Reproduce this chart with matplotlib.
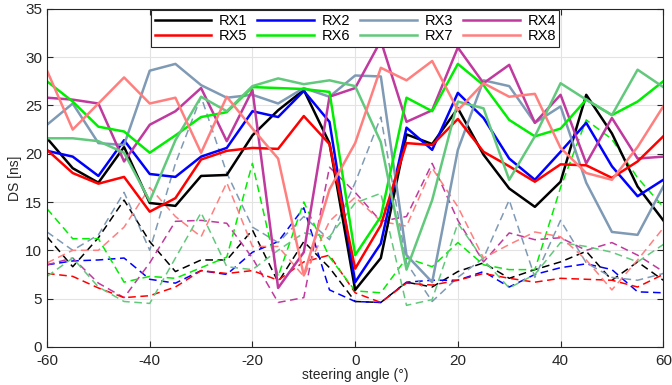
#!/usr/bin/env python
import matplotlib
matplotlib.use("Agg")
import matplotlib.pyplot as plt

plt.rcParams['font.family'] = ['Liberation Sans', 'DejaVu Sans']
plt.rcParams['axes.unicode_minus'] = False

angles = list(range(-60, 61, 5))
labels = ["RX1", "RX2", "RX3", "RX4", "RX5", "RX6", "RX7", "RX8"]
colors = ["#000000", "#0000ff", "#7f9ab5", "#c0399f",
          "#ff0000", "#00ee00", "#62c97c", "#ff7f7f"]

# solid lines
rx1 = [21.6, 18.5, 17.0, 20.7, 14.9, 14.6, 17.7, 17.8, 21.9, 24.5, 26.6, 21.1, 5.9,
       9.2, 22.0, 21.0, 24.7, 19.9, 16.4, 14.5, 17.1, 26.1, 22.1, 16.6, 13.1]
rx2 = [20.3, 19.7, 17.7, 21.4, 17.9, 17.6, 19.7, 20.6, 24.4, 23.8, 26.5, 23.3, 6.7,
       10.7, 22.7, 20.4, 26.3, 23.7, 19.5, 17.3, 20.2, 23.2, 18.7, 15.6, 17.3]
rx3 = [23.0, 25.2, 21.1, 20.9, 28.6, 29.3, 27.1, 25.8, 26.1, 25.2, 26.8, 25.9, 28.1,
       28.0, 9.5, 6.7, 20.4, 27.6, 27.0, 23.2, 24.9, 17.0, 11.9, 11.6, 16.6]
rx4 = [25.8, 25.6, 25.2, 19.2, 23.0, 24.4, 26.8, 21.3, 26.6, 6.1, 9.8, 25.9, 26.8,
       31.7, 23.3, 24.5, 31.0, 27.3, 29.2, 23.2, 26.1, 19.0, 23.7, 19.5, 19.7]
rx5 = [20.4, 18.0, 16.9, 17.6, 14.0, 15.4, 19.4, 20.3, 20.6, 20.5, 23.9, 21.0, 8.1,
       12.6, 21.1, 20.9, 23.6, 20.2, 18.7, 17.1, 18.9, 18.8, 17.5, 19.2, 21.8]
rx6 = [27.5, 25.4, 22.8, 22.3, 20.1, 21.9, 23.8, 24.3, 26.9, 26.8, 26.7, 26.4, 9.5,
       13.5, 25.8, 24.4, 29.3, 27.1, 23.5, 21.8, 22.6, 25.6, 24.0, 25.4, 27.5]
rx7 = [21.6, 21.6, 21.3, 20.1, 15.1, 21.4, 25.9, 24.4, 27.0, 27.8, 27.2, 27.6, 27.0,
       21.2, 8.0, 15.2, 25.4, 24.7, 17.3, 21.8, 27.3, 25.6, 24.0, 28.7, 26.9]
rx8 = [28.6, 22.5, 25.2, 27.9, 25.2, 25.8, 20.1, 25.9, 22.6, 19.5, 7.4, 16.3, 21.1,
       28.9, 27.6, 29.6, 24.5, 27.3, 25.9, 26.2, 20.6, 18.0, 17.3, 20.7, 24.9]

# dashed lines
rx1_d = [11.4, 8.3, 11.3, 15.2, 10.9, 7.8, 9.0, 9.0, 12.1, 6.7, 10.9, 8.2, 4.7,
         4.6, 6.7, 6.2, 7.8, 8.7, 7.1, 8.0, 8.8, 9.9, 6.9, 8.8, 6.9]
rx2_d = [8.5, 8.9, 9.0, 9.2, 7.0, 6.6, 7.9, 7.5, 9.8, 10.9, 14.4, 5.9, 4.7,
         4.6, 6.7, 6.9, 6.9, 7.8, 6.2, 7.5, 8.2, 8.6, 8.0, 5.7, 5.6]
rx3_d = [11.9, 10.0, 11.6, 16.0, 10.0, 19.0, 25.9, 18.0, 12.4, 10.8, 13.5, 11.1, 17.0,
         23.8, 8.7, 4.7, 7.2, 9.2, 15.2, 7.2, 13.1, 8.7, 7.2, 6.9, 7.6]
rx4_d = [8.5, 9.2, 6.6, 5.1, 8.7, 13.0, 13.1, 12.8, 9.2, 4.6, 5.1, 18.6, 16.0,
         13.0, 13.5, 19.0, 13.1, 8.8, 11.8, 11.1, 11.3, 10.0, 10.8, 9.5, 7.8]
rx5_d = [7.6, 7.3, 6.1, 5.1, 5.3, 6.2, 7.9, 7.6, 7.9, 6.9, 8.8, 9.5, 5.6,
         4.6, 6.6, 6.4, 6.9, 7.6, 7.1, 6.7, 7.1, 7.0, 6.9, 6.2, 7.5]
rx6_d = [14.3, 11.2, 11.2, 6.7, 7.3, 7.1, 8.2, 9.3, 19.0, 7.3, 15.0, 9.3, 5.8,
         5.6, 9.2, 8.3, 10.8, 8.5, 8.0, 8.0, 16.5, 23.5, 21.5, 17.5, 14.5]
rx7_d = [7.3, 9.2, 6.2, 4.7, 4.5, 9.2, 13.9, 8.3, 8.0, 10.0, 11.8, 11.4, 14.9,
         15.9, 4.3, 4.9, 12.8, 9.0, 6.1, 7.5, 10.8, 10.4, 9.8, 8.8, 10.6]
rx8_d = [8.7, 10.0, 10.0, 12.4, 16.5, 13.5, 11.4, 17.0, 10.4, 10.4, 7.3, 13.0, 15.5,
         13.0, 12.5, 18.5, 14.5, 9.2, 10.6, 11.9, 11.4, 9.0, 5.9, 9.0, 12.3]

solid = [rx1, rx2, rx3, rx4, rx5, rx6, rx7, rx8]
dashed = [rx1_d, rx2_d, rx3_d, rx4_d, rx5_d, rx6_d, rx7_d, rx8_d]

fig = plt.figure(figsize=(6.72, 3.85), dpi=100)
ax = fig.add_axes([0.070, 0.099, 0.917, 0.878])

for d, c in zip(dashed, colors):
	ax.plot(angles, d, color=c, lw=1.1, ls=(0, (5, 3)))

handles = []
for s, c, lab in zip(solid, colors, labels):
	h, = ax.plot(angles, s, color=c, lw=1.8, label=lab)
	handles.append(h)

ax.set_xlim(-60, 60)
ax.set_ylim(0, 35)
ax.set_xticks(range(-60, 61, 20))
ax.set_yticks(range(0, 36, 5))
ax.grid(True, color="#e3e3e3", lw=0.8)
ax.set_axisbelow(True)
ax.tick_params(direction="in", labelsize=11, colors="#262626", top=True, right=True,
               length=4)
ax.tick_params(axis="x", pad=5)
for sp in ax.spines.values():
	sp.set_color("#262626")
	sp.set_linewidth(0.8)
ax.set_xlabel("steering angle (°)", fontsize=10, color="#262626", labelpad=0)
ax.set_ylabel("DS [ns]", fontsize=10, color="#262626", labelpad=2)

order = [0, 4, 1, 5, 2, 6, 3, 7]
leg = ax.legend([handles[i] for i in order], [labels[i] for i in order],
                ncol=4, loc="upper center", bbox_to_anchor=(0.5, 1.0),
                fontsize=10.5, frameon=True, fancybox=False, handlelength=3.9,
                columnspacing=0.7, handletextpad=0.5, borderpad=0.25,
                labelspacing=0.1, borderaxespad=0.1)
leg.get_frame().set_edgecolor("#262626")
leg.get_frame().set_linewidth(0.8)
leg.get_frame().set_alpha(1)

fig.savefig("out.png", dpi=100)
